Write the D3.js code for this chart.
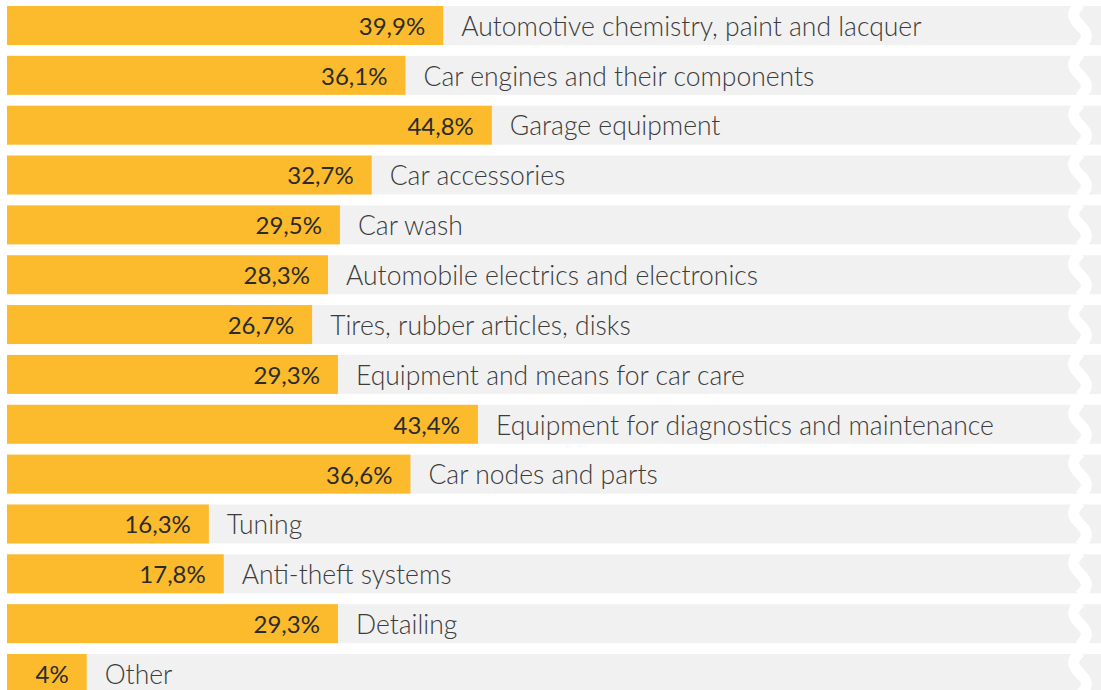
<!DOCTYPE html>
<html>
<head>
<meta charset="utf-8">
<script src="https://cdn.jsdelivr.net/npm/d3@7"></script>
<style>
  body { margin: 0; background: #fff; }
  svg { display: block; font-family: Lato, "Open Sans", sans-serif; }
</style>
</head>
<body>
<div id="chart"></div>
<script>
// Share of companies by product group (horizontal bars with labels)

var categories = [
  "Automotive chemistry, paint and lacquer",
  "Car engines and their components",
  "Garage equipment",
  "Car accessories",
  "Car wash",
  "Automobile electrics and electronics",
  "Tires, rubber articles, disks",
  "Equipment and means for car care",
  "Equipment for diagnostics and maintenance",
  "Car nodes and parts",
  "Tuning",
  "Anti-theft systems",
  "Detailing",
  "Other"
];

var values = [39.9, 36.1, 44.8, 32.7, 29.5, 28.3, 26.7, 29.3, 43.4, 36.6, 16.3, 17.8, 29.3, 4];

var valueLabels = ["39,9%", "36,1%", "44,8%", "32,7%", "29,5%", "28,3%", "26,7%",
  "29,3%", "43,4%", "36,6%", "16,3%", "17,8%", "29,3%", "4%"];

var W = 1101, H = 690;
var left = 7;

var data = categories.map(function(c, i) {
  return {cat: c, value: values[i], label: valueLabels[i]};
});

var svg = d3.select("#chart").append("svg")
  .attr("width", W)
  .attr("height", H);

// bars keep a minimum stub so the label always fits
var x = d3.scaleLinear()
  .domain([0, 50])
  .range([47, 47 + 9.93 * 50]);

var y = d3.scaleBand()
  .domain(categories)
  .range([6, 693])
  .paddingInner(0.218)
  .paddingOuter(0);

var rows = svg.selectAll("g.row")
  .data(data)
  .enter()
  .append("g")
    .attr("class", "row")
    .attr("transform", function(d) { return "translate(0," + y(d.cat) + ")"; });

// grey track
rows.append("rect")
  .attr("x", left)
  .attr("y", 0)
  .attr("width", W - left)
  .attr("height", y.bandwidth())
  .style("fill", "#f1f1f1");

// white wavy cut near the right edge
var h = y.bandwidth();
var wave = d3.line().curve(d3.curveBasis);
rows.append("path")
  .attr("d", function() {
    var pts = d3.range(0, 1.0001, 0.05).map(function(t) {
      return [1080 - 6.5 * Math.sin(2 * Math.PI * t), -2 + t * (h + 4)];
    });
    return wave(pts);
  })
  .style("fill", "none")
  .style("stroke", "#fff")
  .style("stroke-width", 11);

// yellow bars
rows.append("rect")
  .attr("x", left)
  .attr("y", 0)
  .attr("width", function(d) { return x(d.value) - left; })
  .attr("height", h)
  .style("fill", "#fbbb2c");

// value labels inside the bar
rows.append("text")
  .attr("x", function(d) { return x(d.value) - 18; })
  .attr("y", h / 2 + 1)
  .attr("dy", "0.35em")
  .attr("text-anchor", "end")
  .style("font-size", "24px")
  .style("font-weight", 400)
  .style("fill", "#2b2b2b")
  .text(function(d) { return d.label; });

// category labels after the bar
rows.append("text")
  .attr("x", function(d) { return x(d.value) + 18; })
  .attr("y", h / 2 + 1)
  .attr("dy", "0.35em")
  .attr("text-anchor", "start")
  .style("font-size", "26.5px")
  .style("font-weight", 300)
  .style("fill", "#3c3c3c")
  .text(function(d) { return d.cat; });
</script>
</body>
</html>
